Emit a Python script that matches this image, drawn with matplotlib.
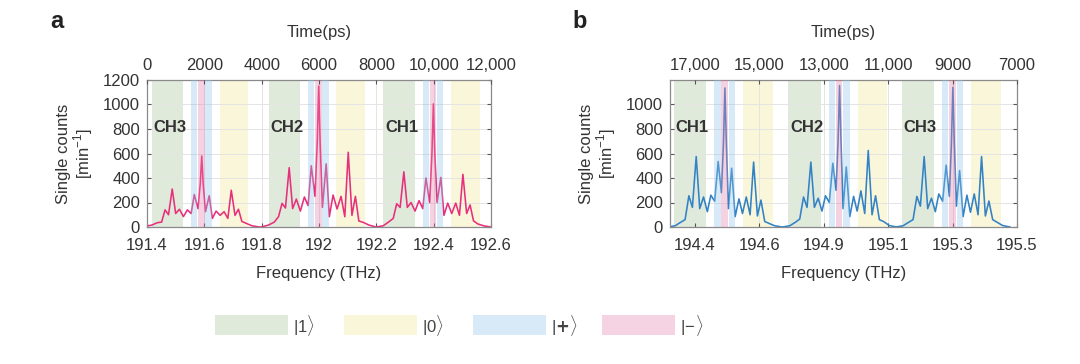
import numpy as np
import matplotlib
matplotlib.use('Agg')
import matplotlib.pyplot as plt
from matplotlib.patches import Rectangle

plt.rcParams['font.family'] = ['Liberation Sans', 'DejaVu Sans']
plt.rcParams['mathtext.fontset'] = 'custom'
plt.rcParams['mathtext.rm'] = 'Liberation Sans'

# ---- data ----
# offsets (THz) of peaks/valleys relative to each channel centre
OFF_A = [-0.200, -0.175, -0.155, -0.140, -0.128, -0.116, -0.103, -0.091, -0.078, -0.064,
         -0.050, -0.037, -0.026, -0.013, -0.005, 0.0, 0.005, 0.013, 0.026, 0.037,
         0.050, 0.064, 0.078, 0.091, 0.103, 0.116, 0.128, 0.140, 0.155, 0.175, 0.200]
CENTERS_A = [191.591, 191.999, 192.399]
NAMES_A = ['CH3', 'CH2', 'CH1']
CH3_A = [5, 15, 35, 40, 140, 100, 310, 110, 145, 85, 140, 110, 265, 150, 360, 580, 350,
         125, 255, 70, 130, 95, 125, 70, 300, 95, 145, 45, 30, 10, 0]
CH2_A = [0, 16, 40, 85, 193, 155, 484, 150, 228, 130, 245, 175, 500, 250, 700, 1150, 690,
         160, 515, 84, 261, 147, 250, 84, 610, 95, 250, 49, 38, 16, 0]
CH1_A = [0, 10, 43, 70, 190, 160, 450, 160, 200, 130, 215, 150, 400, 200, 600, 1005, 600,
         200, 405, 95, 195, 110, 195, 95, 430, 110, 180, 50, 25, 10, 0]

OFF_B = [-0.195, -0.170, -0.150, -0.136, -0.123, -0.111, -0.098, -0.086, -0.073, -0.060,
         -0.048, -0.035, -0.023, -0.012, -0.005, 0.0, 0.005, 0.012, 0.023, 0.035,
         0.048, 0.060, 0.073, 0.086, 0.098, 0.111, 0.123, 0.136, 0.150, 0.170, 0.195]
CENTERS_B = [194.5025, 194.894, 195.281]
NAMES_B = ['CH1', 'CH2', 'CH3']
CH1_B = [0, 10, 40, 60, 255, 160, 575, 150, 245, 125, 260, 210, 535, 280, 680, 1135, 680,
         150, 480, 85, 230, 110, 245, 100, 530, 90, 220, 45, 30, 10, 0]
CH2_B = [0, 10, 40, 65, 245, 160, 530, 160, 235, 130, 255, 200, 520, 300, 700, 1155, 700,
         150, 490, 85, 250, 130, 295, 110, 625, 100, 255, 60, 45, 12, 0]
CH3_B = [0, 10, 40, 60, 250, 170, 575, 150, 235, 125, 270, 210, 505, 250, 680, 1140, 680,
         170, 460, 85, 260, 120, 270, 100, 575, 90, 212, 60, 40, 12, 0]

# state bands relative to channel centre (start, end)
BANDS = [('one', -0.175, -0.065), ('plus', -0.036, -0.015), ('minus', -0.012, 0.010),
         ('plus', 0.013, 0.035), ('zero', 0.062, 0.163)]

XTICKS_A = [191.4, 191.6, 191.8, 192.0, 192.2, 192.4, 192.6]
XLABELS_A = ['191.4', '191.6', '191.8', '192', '192.2', '192.4', '192.6']
TLABELS_A = ['0', '2000', '4000', '6000', '8000', '10,000', '12,000']
XTICKS_B = [194.4, 194.62, 194.84, 195.06, 195.28, 195.5]
XLABELS_B = ['194.4', '194.6', '194.9', '195.1', '195.3', '195.5']
TLABELS_B = ['17,000', '15,000', '13,000', '11,000', '9000', '7000']

STATE_LABELS = [('one', r'$|1\rangle$'), ('zero', r'$|0\rangle$'),
                ('plus', r'$|\mathbf{+}\rangle$'), ('minus', r'$|\!-\!\rangle$')]

COLORS = {'one': '#e0eadb', 'zero': '#faf6da', 'plus': '#d8eaf8', 'minus': '#f6d3e2'}
# blue/pink bands are drawn over the trace, partly transparent
OVER = {'plus': '#90c3eb', 'minus': '#e57ea9'}
TXT = '#333333'


def trace(offsets, centers, counts):
    xs, ys = [], []
    for c, cnt in zip(centers, counts):
        xs += [c + o for o in offsets]
        ys += list(cnt)
    return np.array(xs), np.array(ys)


def draw_panel(ax, offsets, centers, names, counts, color, xlim, xt, xl, tl, ytl):
    ax.set_xlim(*xlim)
    ax.set_ylim(0, 1200)
    for c in centers:
        for key, a, b in BANDS:
            if key in OVER:
                ax.axvspan(c + a, c + b, color=OVER[key], alpha=0.35, lw=0, zorder=3)
            else:
                ax.axvspan(c + a, c + b, color=COLORS[key], lw=0, zorder=0.1)
    x, y = trace(offsets, centers, counts)
    ax.plot(x, y, color=color, lw=1.15, zorder=2, solid_joinstyle='round')
    for c, n in zip(centers, names):
        ax.text(c - 0.168, 810, n, fontsize=12, fontweight='bold', color=TXT,
                va='center', ha='left', zorder=4)
    ax.set_axisbelow(True)
    ax.grid(True, color='#e4e4e4', lw=0.7)
    ax.set_xticks(xt)
    ax.set_xticklabels(xl)
    ax.set_yticks(ytl)
    ax.tick_params(direction='in', length=3, colors='#555555', labelcolor=TXT,
                   labelsize=12, top=False, right=True)
    ax.tick_params(axis='x', pad=8)
    ax.tick_params(axis='y', pad=5)
    for s in ax.spines.values():
        s.set_color('#8a8a8a')
        s.set_linewidth(0.9)
    ax.set_xlabel('Frequency (THz)', fontsize=12, color=TXT, labelpad=9)
    ax.set_ylabel('Single counts\n[min$^{-1}$]', fontsize=12, color=TXT,
                  labelpad=6, linespacing=1.0)
    top = ax.twiny()
    top.set_xlim(*xlim)
    top.set_xticks(xt)
    top.set_xticklabels(tl)
    top.tick_params(direction='in', length=3, colors='#555555', labelcolor=TXT,
                    labelsize=12, pad=5)
    for s in top.spines.values():
        s.set_visible(False)
    top.set_xlabel('Time(ps)', fontsize=12, color=TXT, labelpad=15)


fig = plt.figure(figsize=(10.8, 3.64), dpi=100)
ax_a = fig.add_axes([147 / 1080, 137 / 364, 344 / 1080, 147 / 364])
ax_b = fig.add_axes([670 / 1080, 137 / 364, 347 / 1080, 147 / 364])

draw_panel(ax_a, OFF_A, CENTERS_A, NAMES_A, [CH3_A, CH2_A, CH1_A], '#e6307c',
           (191.4, 192.6), XTICKS_A, XLABELS_A, TLABELS_A,
           [0, 200, 400, 600, 800, 1000, 1200])
draw_panel(ax_b, OFF_B, CENTERS_B, NAMES_B, [CH1_B, CH2_B, CH3_B], '#3282c4',
           (194.315, 195.5), XTICKS_B, XLABELS_B, TLABELS_B,
           [0, 200, 400, 600, 800, 1000])

fig.text(50 / 1080, 1 - 22 / 364, 'a', fontsize=17, fontweight='bold', color='#222222',
         va='center', ha='left')
fig.text(572 / 1080, 1 - 22 / 364, 'b', fontsize=17, fontweight='bold', color='#222222',
         va='center', ha='left')

# legend row
leg = fig.add_axes([0, 0, 1, 1], zorder=-1)
leg.set_xlim(0, 1080)
leg.set_ylim(364, 0)
leg.axis('off')
lx = 215
for key, lab in STATE_LABELS:
    leg.add_patch(Rectangle((lx, 315), 73, 20, color=COLORS[key], lw=0))
    leg.text(lx + 78, 325, lab, fontsize=12, color='#444444', va='center', ha='left')
    lx += 129

fig.savefig('out.png', dpi=100)
